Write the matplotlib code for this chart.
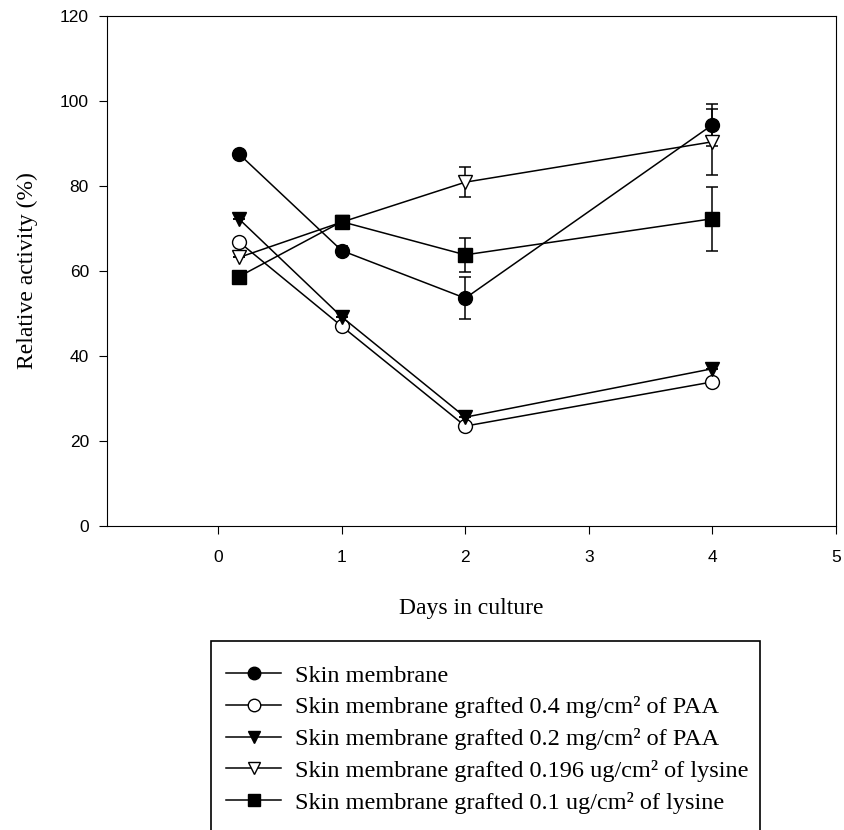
import matplotlib.pyplot as plt
from matplotlib.lines import Line2D
from matplotlib.patches import Rectangle

# Days in culture (first point plotted slightly right of 0)
days = [0.17, 1, 2, 4]

skin = [87.5, 64.8, 53.6, 94.4]
skin_err = [0.8, 1.0, 5.0, 4.9]
paa_04 = [66.8, 47.0, 23.5, 33.9]
paa_04_err = [0, 0, 0, 0]
paa_02 = [72.2, 49.2, 25.6, 37.0]
paa_02_err = [0, 0, 0, 0]
lys_196 = [63.2, 71.5, 80.9, 90.4]
lys_196_err = [0, 0.8, 3.6, 7.7]
lys_01 = [58.7, 71.6, 63.8, 72.3]
lys_01_err = [0, 1.3, 4.0, 7.5]

labels = [
    'Skin membrane',
    'Skin membrane grafted 0.4 mg/cm\u00b2 of PAA',
    'Skin membrane grafted 0.2 mg/cm\u00b2 of PAA',
    'Skin membrane grafted 0.196 ug/cm\u00b2 of lysine',
    'Skin membrane grafted 0.1 ug/cm\u00b2 of lysine',
]

fig = plt.figure(figsize=(8.45, 8.3), dpi=100)
ax = fig.add_axes([0.1266, 0.3663, 0.8627, 0.6144])

series = [
    (skin, skin_err, 'o', 'black'),
    (paa_04, paa_04_err, 'o', 'white'),
    (paa_02, paa_02_err, 'v', 'black'),
    (lys_196, lys_196_err, 'v', 'white'),
    (lys_01, lys_01_err, 's', 'black'),
]

handles = []
for vals, err, mk, fc in series:
    ax.errorbar(days, vals, yerr=err, color='black', marker=mk, mfc=fc,
                mec='black', ms=10, lw=1.1, elinewidth=1.1, capsize=4,
                capthick=1.1)
    handles.append(Line2D([], [], color='black', marker=mk, mfc=fc,
                          mec='black', ms=9, lw=1.1))

ax.set_xlim(-0.9, 5)
ax.set_ylim(0, 120)
ax.set_xticks([0, 1, 2, 3, 4, 5])
ax.set_yticks([0, 20, 40, 60, 80, 100, 120])
ax.tick_params(direction='out', length=6, labelsize=12.5)
ax.tick_params(axis='x', pad=11)
ax.tick_params(axis='y', pad=7)
for lbl in ax.get_xticklabels() + ax.get_yticklabels():
    lbl.set_fontfamily('Liberation Sans')

ax.set_xlabel('Days in culture', fontsize=17, family='Liberation Serif', labelpad=24)
ax.set_ylabel('Relative activity (%)', fontsize=17, family='Liberation Serif', labelpad=16)

# legend box runs off the bottom of the figure, as in the original
fig.patches.append(Rectangle((211 / 845, -0.05), (760 - 211) / 845, 0.05 + (830 - 641) / 830,
                             transform=fig.transFigure, fill=False,
                             edgecolor='black', lw=1.2))
fig.legend(handles=handles, labels=labels, loc='upper left',
           bbox_to_anchor=(211 / 845, 1 - 650 / 830),
           prop={'family': 'Liberation Serif', 'size': 17.5},
           frameon=False,
           handlelength=2.3, handletextpad=0.55, labelspacing=0.4,
           borderpad=0.6, borderaxespad=0)

fig.savefig('out.png', dpi=100)
